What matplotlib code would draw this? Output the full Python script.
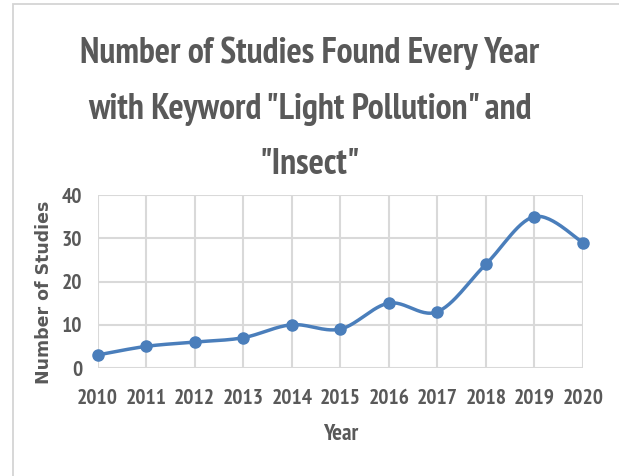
import numpy as np
import matplotlib.pyplot as plt
from matplotlib.patches import Rectangle

years = [2010, 2011, 2012, 2013, 2014, 2015, 2016, 2017, 2018, 2019, 2020]
studies = [3, 5, 6, 7, 10, 9, 15, 13, 24, 35, 29]
y_ticks = [0, 10, 20, 30, 40]
title_lines = ["Number of Studies Found Every Year",
               'with Keyword "Light Pollution" and',
               '"Insect"']

BLUE = "#4a7ebb"
GRAY = "#595959"
GRID = "#d9d9d9"
FONT = ["PT Sans Narrow", "Carlito", "DejaVu Sans"]

W, H = 619, 476


def smooth(x, y, n=30):
    # cardinal spline through the points, like a spreadsheet "smoothed line"
    x = np.asarray(x, float)
    y = np.asarray(y, float)
    px = np.concatenate([[x[0]], x, [x[-1]]])
    py = np.concatenate([[y[0]], y, [y[-1]]])
    xs, ys = [], []
    t = np.linspace(0, 1, n)
    for i in range(1, len(px) - 2):
        p0, p1, p2, p3 = [np.array([px[j], py[j]]) for j in (i - 1, i, i + 1, i + 2)]
        c1 = p1 + (p2 - p0) / 6
        c2 = p2 - (p3 - p1) / 6
        pts = ((1 - t) ** 3)[:, None] * p1 + (3 * (1 - t) ** 2 * t)[:, None] * c1 \
            + (3 * (1 - t) * t ** 2)[:, None] * c2 + (t ** 3)[:, None] * p2
        xs.extend(pts[:, 0])
        ys.extend(pts[:, 1])
    return xs, ys


fig = plt.figure(figsize=(W / 100, H / 100), dpi=100)
ax = fig.add_axes([97.5 / W, 1 - 368 / H, (583 - 97.5) / W, (368 - 195) / H])

# chart frame (left and top edges visible)
fig.patches.append(Rectangle((13 / W, -0.1), 1.2, 1.1 - 3.5 / H,
                             transform=fig.transFigure, fill=False,
                             edgecolor="#d4d4d4", lw=1.3))

sx, sy = smooth(years, studies)
ax.plot(sx, sy, color=BLUE, lw=2.5, solid_capstyle="round", zorder=3, clip_on=False)
ax.plot(years, studies, "o", color=BLUE, ms=8, zorder=4, clip_on=False)

ax.set_xlim(years[0], years[-1])
ax.set_ylim(0, 40)
ax.set_xticks(years)
ax.set_yticks(y_ticks)
ax.grid(True, color=GRID, lw=1.5)
ax.set_axisbelow(True)
for s in ax.spines.values():
    s.set_visible(False)
ax.tick_params(axis="x", length=0, pad=15)
ax.tick_params(axis="y", length=0, pad=11)
for lab in ax.get_xticklabels() + ax.get_yticklabels():
    lab.set_fontfamily(FONT)
    lab.set_fontweight("bold")
    lab.set_fontsize(15.5)
    lab.set_color(GRAY)

ax.set_xlabel("Year", family=FONT, weight="bold", size=16.5, color=GRAY, labelpad=12)
ax.set_ylabel("Number of Studies", family="DejaVu Sans", weight="bold", size=12.5,
              color=GRAY)
ax.yaxis.set_label_coords(-0.092, 0.44)

# title, one text per line
for i, line in enumerate(title_lines):
    fig.text(0.5, 1 - (63.5 + 55.3 * i) / H, line, ha="center", va="baseline",
             family=FONT, weight="bold", size=25.8, color=GRAY)

# tail of the line of text above the chart
fig.text(248 / W, 1 + 7 / H, "g", ha="center", va="baseline", size=13, color="black")

fig.savefig("out.png", dpi=100)
